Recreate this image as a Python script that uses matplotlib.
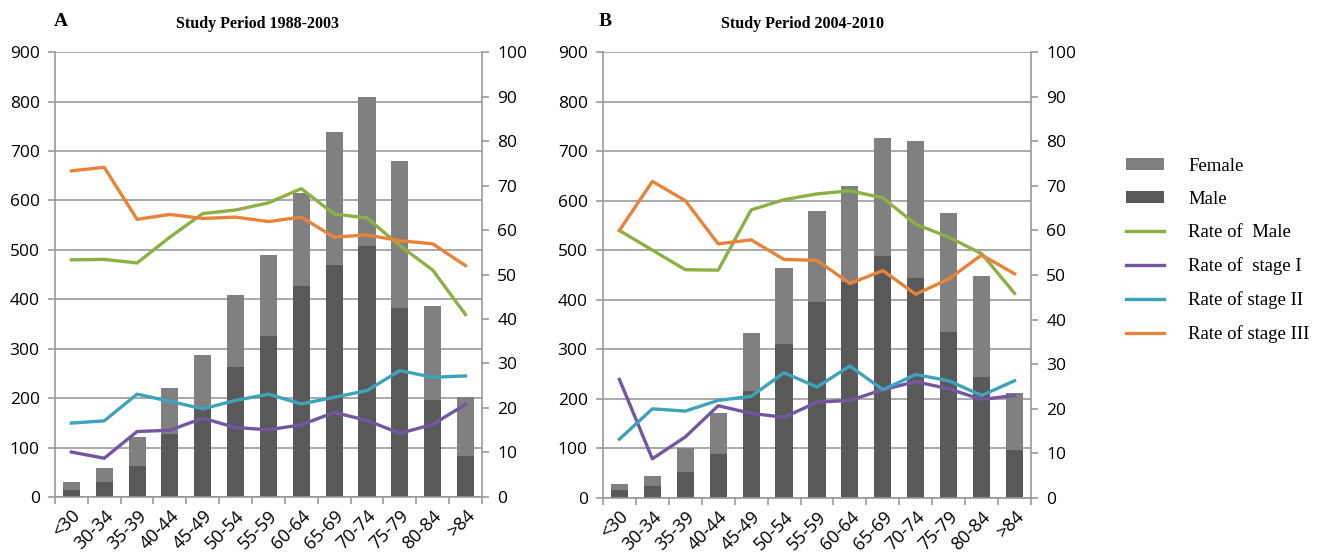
import numpy as np
import matplotlib.pyplot as plt

# age groups shared by both panels
ages = ['<30', '30-34', '35-39', '40-44', '45-49', '50-54', '55-59',
        '60-64', '65-69', '70-74', '75-79', '80-84', '>84']

# Panel A: 1988-2003 (counts, left axis)
a_total = [30, 58, 122, 220, 288, 408, 490, 615, 739, 809, 679, 387, 202]
a_male = [15, 31, 63, 128, 180, 263, 325, 427, 470, 507, 383, 197, 82]
# rates (%), right axis
a_rate_male = [53.3, 53.4, 52.6, 58.4, 63.7, 64.5, 66.1, 69.3, 63.6, 62.7, 56.5, 51.0, 41.0]
a_stage1 = [10.1, 8.7, 14.7, 15.0, 17.7, 15.6, 15.1, 16.2, 19.0, 17.2, 14.3, 16.3, 20.8]
a_stage2 = [16.6, 17.1, 23.1, 21.5, 19.8, 21.7, 23.1, 20.9, 22.4, 23.9, 28.4, 26.9, 27.2]
a_stage3 = [73.3, 74.1, 62.4, 63.5, 62.6, 62.9, 61.9, 62.9, 58.4, 58.9, 57.6, 56.9, 52.0]

# Panel B: 2004-2010
b_total = [29, 44, 101, 172, 334, 464, 580, 629, 726, 720, 575, 449, 211]
b_male = [17, 24, 52, 88, 216, 310, 396, 435, 489, 444, 335, 244, 96]
b_rate_male = [60.0, 55.6, 51.2, 51.1, 64.6, 66.9, 68.2, 68.9, 67.3, 61.4, 58.5, 54.8, 45.9]
b_stage1 = [26.6, 8.8, 13.7, 20.7, 19.0, 18.1, 21.5, 21.9, 24.3, 26.1, 24.5, 22.1, 23.0]
b_stage2 = [13.2, 20.0, 19.5, 21.9, 22.8, 28.1, 24.9, 29.6, 24.3, 27.7, 26.3, 23.0, 26.3]
b_stage3 = [60.0, 71.0, 66.7, 57.0, 57.9, 53.5, 53.3, 48.1, 51.0, 45.7, 49.1, 54.5, 50.3]

C_FEMALE = '#808080'
C_MALE = '#595959'
C_GREEN = '#8DB045'
C_PURPLE = '#7457A0'
C_TEAL = '#3FA3BC'
C_ORANGE = '#E8843A'
C_AX = '#999999'

TICK_FONT = 'Open Sans'
SERIF = 'Liberation Serif'
TICK_SIZE = 12.5

fig = plt.figure(figsize=(13.24, 5.54), dpi=100)


def draw_panel(rect, total, male, r_male, s1, s2, s3, title, title_x, letter, letter_x):
    ax = fig.add_axes(rect)
    x = np.arange(len(ages))
    female = np.array(total) - np.array(male)
    ax.bar(x, male, width=0.52, color=C_MALE, zorder=2, label='Male')
    ax.bar(x, female, bottom=male, width=0.52, color=C_FEMALE, zorder=2, label='Female')
    ax.set_xlim(-0.5, len(ages) - 0.5)
    ax.set_ylim(0, 900)
    ax.set_yticks(range(0, 901, 100))
    ax.grid(axis='y', color=C_AX, lw=1.2, zorder=0)
    ax.set_axisbelow(True)
    for s in ['top', 'right']:
        ax.spines[s].set_visible(False)
    for s in ['left', 'bottom']:
        ax.spines[s].set_color(C_AX)
        ax.spines[s].set_linewidth(1.2)
    ax.tick_params(axis='y', colors=C_AX, length=5, width=1.2, labelcolor='black',
                   labelsize=TICK_SIZE, pad=6)
    ax.set_xticks(x)
    ax.set_xticklabels(ages, rotation=45, ha='right', rotation_mode='anchor',
                       fontsize=13, fontfamily=TICK_FONT)
    ax.tick_params(axis='x', length=0, pad=7)
    ax.set_xticks(np.arange(-0.5, len(ages), 1), minor=True)
    ax.tick_params(axis='x', which='minor', length=5, width=1.2, colors=C_AX)
    for lab in ax.get_yticklabels():
        lab.set_fontfamily(TICK_FONT)

    ax2 = ax.twinx()
    ax2.set_ylim(0, 100)
    ax2.set_yticks(range(0, 101, 10))
    for s in ['top', 'left', 'bottom']:
        ax2.spines[s].set_visible(False)
    ax2.spines['right'].set_color(C_AX)
    ax2.spines['right'].set_linewidth(1.2)
    ax2.tick_params(axis='y', colors=C_AX, length=5, width=1.2, labelcolor='black',
                    labelsize=TICK_SIZE, pad=6)
    for lab in ax2.get_yticklabels():
        lab.set_fontfamily(TICK_FONT)
    lw = 2.4
    ax2.plot(x, r_male, color=C_GREEN, lw=lw, label='Rate of  Male')
    ax2.plot(x, s1, color=C_PURPLE, lw=lw, label='Rate of  stage I')
    ax2.plot(x, s2, color=C_TEAL, lw=lw, label='Rate of stage II')
    ax2.plot(x, s3, color=C_ORANGE, lw=lw, label='Rate of stage III')

    ax.set_title(title, fontfamily=SERIF, fontweight='bold', fontsize=11.5, pad=17,
                 x=title_x)
    fig.text(letter_x, 0.962, letter, fontfamily=SERIF, fontweight='bold', fontsize=14,
             ha='left', va='center')
    return ax, ax2


axA, axA2 = draw_panel([0.0415, 0.103, 0.3225, 0.803], a_total, a_male, a_rate_male,
                       a_stage1, a_stage2, a_stage3, 'Study Period 1988-2003', 0.474,
                       'A', 0.041)
axB, axB2 = draw_panel([0.4554, 0.101, 0.3233, 0.805], b_total, b_male, b_rate_male,
                       b_stage1, b_stage2, b_stage3, 'Study Period 2004-2010', 0.466,
                       'B', 0.452)

# legend on the right
hb, lb = axB.get_legend_handles_labels()
hl, ll = axB2.get_legend_handles_labels()
handles = [hb[1], hb[0]] + hl
labels = [lb[1], lb[0]] + ll
fig.legend(handles, labels, loc='center left', bbox_to_anchor=(0.838, 0.548),
           frameon=False, prop={'family': SERIF, 'size': 13.5}, handlelength=2.0,
           handleheight=0.6, labelspacing=0.86, handletextpad=1.3)

fig.savefig('out.png', dpi=100)
